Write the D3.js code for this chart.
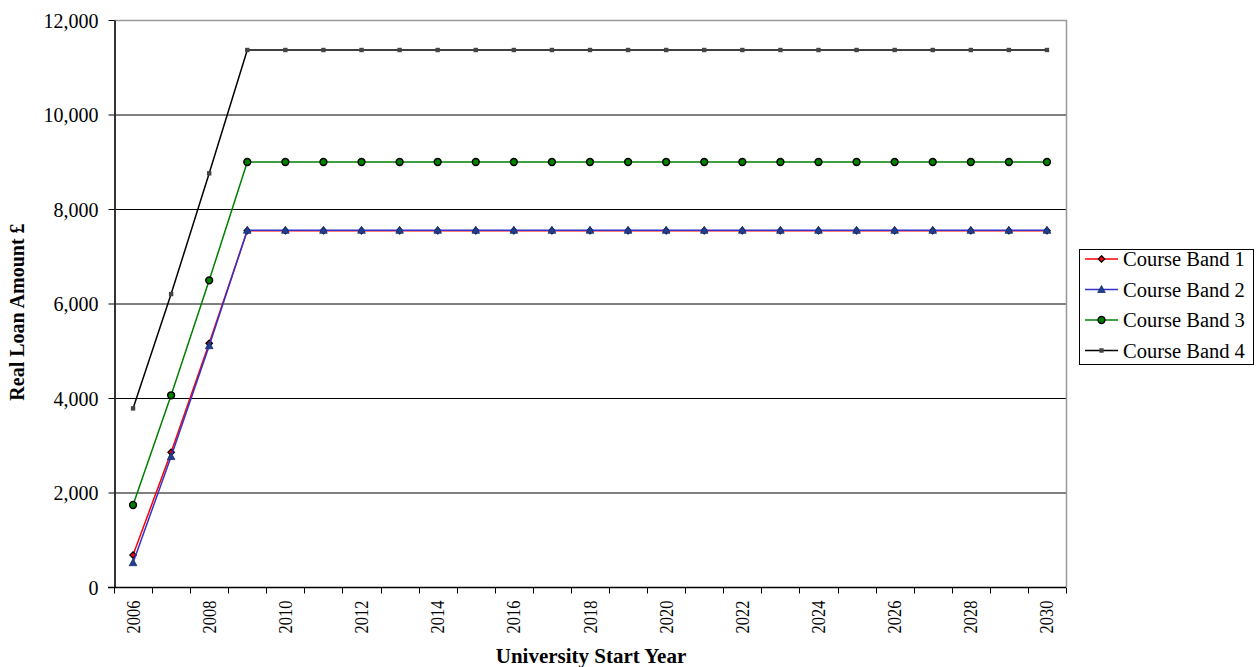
<!DOCTYPE html>
<html>
<head>
<meta charset="utf-8">
<script src="https://cdn.jsdelivr.net/npm/d3@7"></script>
<style>
  body { margin: 0; background: #fff; }
  svg text { font-family: "Liberation Serif", "DejaVu Serif", serif; fill: #000; }
</style>
</head>
<body>
<div id="chart"></div>
<script>
const width = 1257;
const height = 667;

// data
const years = d3.range(2006, 2031);
const band1 = [677, 2850, 5157, 7540].concat(d3.range(21).map(() => 7540));
const band2 = [515, 2760, 5107, 7550].concat(d3.range(21).map(() => 7550));
const band3 = [1735, 4057, 6490, 8995].concat(d3.range(21).map(() => 8995));
const band4 = [3780, 6200, 8755, 11365].concat(d3.range(21).map(() => 11365));
const yTicks = [0, 2000, 4000, 6000, 8000, 10000, 12000];

const series = [
    { name: "Course Band 1", values: band1, color: "#ff0000", marker: "diamond" },
    { name: "Course Band 2", values: band2, color: "#3333cc", marker: "triangle" },
    { name: "Course Band 3", values: band3, color: "#008000", marker: "circle" },
    { name: "Course Band 4", values: band4, color: "#000000", marker: "square" }
];

const plot = { left: 114, top: 20, right: 1066, bottom: 587 };
const serif = '"Liberation Serif", "Times New Roman", serif';

const svg = d3.select("#chart")
    .append("svg")
    .attr("width", width)
    .attr("height", height);

const x = d3.scaleBand()
    .domain(years)
    .range([plot.left, plot.right]);

const y = d3.scaleLinear()
    .domain([0, 12000])
    .range([plot.bottom, plot.top]);

// gridlines
svg.append("g")
    .selectAll("line")
    .data(yTicks.filter(d => d > 0 && d < 12000))
    .enter().append("line")
    .attr("x1", plot.left)
    .attr("x2", plot.right)
    .attr("y1", d => y(d) + 0.5)
    .attr("y2", d => y(d) + 0.5)
    .attr("stroke", "#000")
    .attr("stroke-width", 1);

// top and right border
svg.append("path")
    .attr("d", `M${plot.left},${plot.top + 0.5}H${plot.right + 0.5}V${plot.bottom}`)
    .attr("fill", "none")
    .attr("stroke", "#999")
    .attr("stroke-width", 1.5);

// y axis
const yAxis = svg.append("g")
    .attr("transform", `translate(${plot.left + 0.5},0)`)
    .call(d3.axisLeft(y).tickValues(yTicks).tickSize(6).tickSizeOuter(0).tickFormat(d3.format(",")))
    .attr("font-family", serif);
yAxis.select(".domain").attr("stroke", "#333").attr("stroke-width", 2);
yAxis.selectAll(".tick line").attr("stroke", "#000");
yAxis.selectAll(".tick text")
    .attr("x", -16)
    .attr("dy", "0.35em")
    .style("font-family", serif)
    .style("font-size", "20px");

// x axis: ticks at category boundaries, labels every other year
const xg = svg.append("g")
    .attr("transform", `translate(0,${plot.bottom + 0.5})`);
xg.append("line")
    .attr("x1", plot.left - 6)
    .attr("x2", plot.right)
    .attr("stroke", "#000")
    .attr("stroke-width", 1.5);
const bounds = years.map(d => x(d)).concat([plot.right]);
xg.selectAll(".xt")
    .data(bounds)
    .enter().append("line")
    .attr("class", "xt")
    .attr("x1", d => Math.round(d) + 0.5)
    .attr("x2", d => Math.round(d) + 0.5)
    .attr("y1", 0)
    .attr("y2", 6)
    .attr("stroke", "#000");
xg.selectAll(".xl")
    .data(years.filter(d => (d - 2006) % 2 === 0))
    .enter().append("text")
    .attr("class", "xl")
    .attr("transform", d => `translate(${x(d) + x.bandwidth() / 2 + 6.5},13) rotate(-90)`)
    .attr("text-anchor", "end")
    .attr("textLength", 33)
    .attr("lengthAdjust", "spacingAndGlyphs")
    .style("font-family", serif)
    .style("font-size", "19px")
    .text(d => d);

// axis titles
svg.append("text")
    .attr("x", 591)
    .attr("y", 663)
    .attr("text-anchor", "middle")
    .style("font-family", serif)
    .style("font-size", "21px")
    .style("font-weight", "bold")
    .text("University Start Year");

svg.append("text")
    .attr("transform", `translate(24,312) rotate(-90)`)
    .attr("text-anchor", "middle")
    .style("font-family", serif)
    .style("font-size", "20px")
    .style("font-weight", "bold")
    .text("Real Loan Amount £");

// markers
function drawMarker(g, type, color) {
    if (type === "diamond") {
        g.append("path").attr("d", "M0,-3.2L3.2,0L0,3.2L-3.2,0Z")
            .attr("fill", color).attr("stroke", "#000").attr("stroke-width", 1.3);
    } else if (type === "triangle") {
        g.append("path").attr("d", "M0,-4L3.8,3L-3.8,3Z")
            .attr("fill", "#1f3f8f").attr("stroke", "#1a2f6f").attr("stroke-width", 0.8);
    } else if (type === "circle") {
        g.append("circle").attr("r", 3.4)
            .attr("fill", color).attr("stroke", "#000").attr("stroke-width", 1.5);
    } else {
        g.append("rect").attr("x", -2.2).attr("y", -2.2).attr("width", 4.4).attr("height", 4.4)
            .attr("fill", "#444");
    }
}

const line = d3.line()
    .x((d, i) => x(years[i]) + x.bandwidth() / 2)
    .y(d => y(d));

series.forEach(s => {
    const g = svg.append("g");
    g.append("path")
        .datum(s.values)
        .attr("d", line)
        .attr("fill", "none")
        .attr("stroke", s.color)
        .attr("stroke-width", 1.5);
    s.values.forEach((v, i) => {
        const m = g.append("g")
            .attr("transform", `translate(${x(years[i]) + x.bandwidth() / 2},${y(v)})`);
        drawMarker(m, s.marker, s.color);
    });
});

// legend
const legend = svg.append("g").attr("transform", "translate(1079,249)");
legend.append("rect")
    .attr("x", 0.5).attr("y", 0.5)
    .attr("width", 174).attr("height", 115)
    .attr("fill", "#fff")
    .attr("stroke", "#000");
series.forEach((s, i) => {
    const row = legend.append("g").attr("transform", `translate(0,${10 + i * 30.5})`);
    row.append("line")
        .attr("x1", 6).attr("x2", 39)
        .attr("stroke", s.color).attr("stroke-width", 1.5);
    const m = row.append("g").attr("transform", "translate(22.5,0)");
    drawMarker(m, s.marker, s.color);
    row.append("text")
        .attr("x", 44)
        .attr("y", 7)
        .style("font-family", serif)
        .style("font-size", "20.5px")
        .text(s.name);
});
</script>
</body>
</html>
